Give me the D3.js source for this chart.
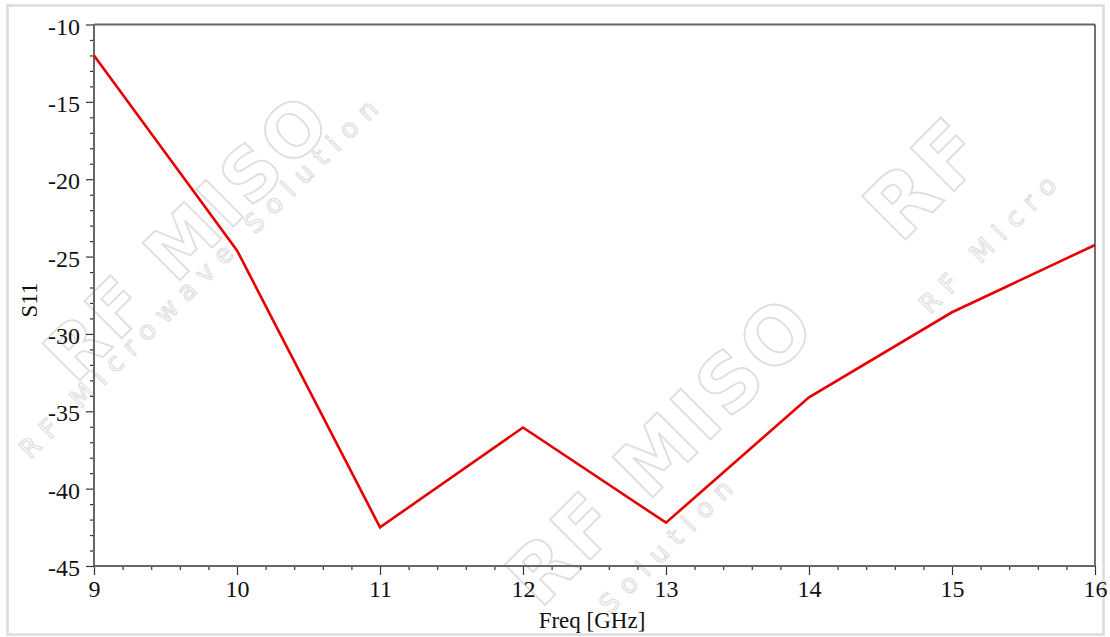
<!DOCTYPE html>
<html>
<head>
<meta charset="utf-8">
<script src="https://cdn.jsdelivr.net/npm/d3@7"></script>
<style>
  html, body { margin: 0; padding: 0; background: #fff; }
  svg { display: block; }
</style>
</head>
<body>
<script>
const freqs = [9, 10, 11, 12, 13, 14, 15, 16];
const s11 = [-12.0, -24.6, -42.5, -36.05, -42.2, -34.1, -28.6, -24.25];
const xTicks = [9, 10, 11, 12, 13, 14, 15, 16];
const yTicks = [-45, -40, -35, -30, -25, -20, -15, -10];
const xLabel = "Freq [GHz]";
const yLabel = "S11";

const W = 1110, H = 637;
const m = { left: 94, top: 24.5, right: 1095, bottom: 566 };

const svg = d3.select("body").append("svg").attr("width", W).attr("height", H);

// outer frame
svg.append("rect").attr("x", 7.5).attr("y", 5.5).attr("width", 1096).attr("height", 629)
  .attr("fill", "#fff").attr("stroke", "#dcdcdc").attr("stroke-width", 2.5);

// watermark (light outlined text)
const wm = svg.append("g").attr("fill", "none").attr("stroke", "#dedede").attr("stroke-width", 1.8)
  .style("font-family", "'DejaVu Sans', sans-serif");
const marks = [
  { x: 75, y: 385, t: "RF MISO", fs: 72 },
  { x: 540, y: 610, t: "RF MISO", fs: 78 },
  { x: 900, y: 245, t: "RF", fs: 84 }
];
marks.forEach(d => {
  wm.append("text").attr("transform", `translate(${d.x},${d.y}) rotate(-45)`)
    .attr("font-size", d.fs).attr("font-weight", "bold").attr("letter-spacing", 4)
    .text(d.t);
});
const subs = [
  { x: 30, y: 460, t: "RF Microwave Solution" },
  { x: 610, y: 615, t: "Solution" },
  { x: 930, y: 315, t: "RF Micro" }
];
subs.forEach(d => {
  wm.append("text").attr("transform", `translate(${d.x},${d.y}) rotate(-45)`)
    .attr("font-size", 26).attr("stroke-width", 1.2).attr("letter-spacing", 10)
    .text(d.t);
});

const x = d3.scaleLinear().domain([9, 16]).range([m.left, m.right]);
const y = d3.scaleLinear().domain([-45, -10]).range([m.bottom, m.top]);

const font = "'Liberation Serif', 'Times New Roman', serif";

// minor ticks
const xMinor = d3.range(9, 16.0001, 0.2).filter(v => Math.abs(v - Math.round(v)) > 1e-6);
const yMinor = d3.range(-45, -9.999, 1).filter(v => Math.abs(v % 5) > 1e-6);

const gx = svg.append("g").attr("transform", `translate(0,${m.bottom})`);
gx.call(d3.axisBottom(x).tickValues(xMinor).tickSize(4).tickFormat(""));
gx.call(g => g.select(".domain").remove());
const gx2 = svg.append("g").attr("transform", `translate(0,${m.bottom})`)
  .call(d3.axisBottom(x).tickValues(xTicks).tickSize(9).tickPadding(4).tickFormat(d3.format("d")));
gx2.select(".domain").remove();
gx2.selectAll(".tick text").attr("y", 31).attr("dy", 0);

const gy = svg.append("g").attr("transform", `translate(${m.left},0)`);
gy.call(d3.axisLeft(y).tickValues(yMinor).tickSize(4).tickFormat(""));
gy.call(g => g.select(".domain").remove());
const gy2 = svg.append("g").attr("transform", `translate(${m.left},0)`)
  .call(d3.axisLeft(y).tickValues(yTicks).tickSize(8).tickPadding(6).tickFormat(d => d3.format("d")(d).replace("−", "-")));
gy2.select(".domain").remove();
gy2.selectAll(".tick text").attr("x", -14).attr("dy", "0.4em");

svg.selectAll(".tick line").attr("stroke", "#333").attr("stroke-width", 1.2);
svg.selectAll(".tick text").attr("fill", "#111").style("font-family", font).style("font-size", "24px");

// frame lines
svg.append("line").attr("x1", m.left).attr("x2", m.right).attr("y1", m.top).attr("y2", m.top)
  .attr("stroke", "#666").attr("stroke-width", 2);
svg.append("line").attr("x1", m.right).attr("x2", m.right).attr("y1", m.top).attr("y2", m.bottom)
  .attr("stroke", "#111").attr("stroke-width", 1.2);
svg.append("line").attr("x1", m.left).attr("x2", m.right).attr("y1", m.bottom).attr("y2", m.bottom)
  .attr("stroke", "#666").attr("stroke-width", 2);
svg.append("line").attr("x1", m.left).attr("x2", m.left).attr("y1", m.top).attr("y2", m.bottom)
  .attr("stroke", "#666").attr("stroke-width", 2);

// data line
const data = freqs.map((f, i) => ({ f, v: s11[i] }));
svg.append("path").datum(data)
  .attr("fill", "none").attr("stroke", "#e60000").attr("stroke-width", 2.6)
  .attr("stroke-linejoin", "miter")
  .attr("d", d3.line().x(d => x(d.f)).y(d => y(d.v)));

// axis labels
svg.append("text").attr("x", 592).attr("y", 628)
  .attr("text-anchor", "middle").style("font-family", font).style("font-size", "23px").attr("fill", "#111")
  .text(xLabel);
svg.append("text").attr("transform", `translate(37,300) rotate(-90)`)
  .attr("text-anchor", "middle").style("font-family", font).style("font-size", "23px").attr("fill", "#111")
  .text(yLabel);
</script>
</body>
</html>
